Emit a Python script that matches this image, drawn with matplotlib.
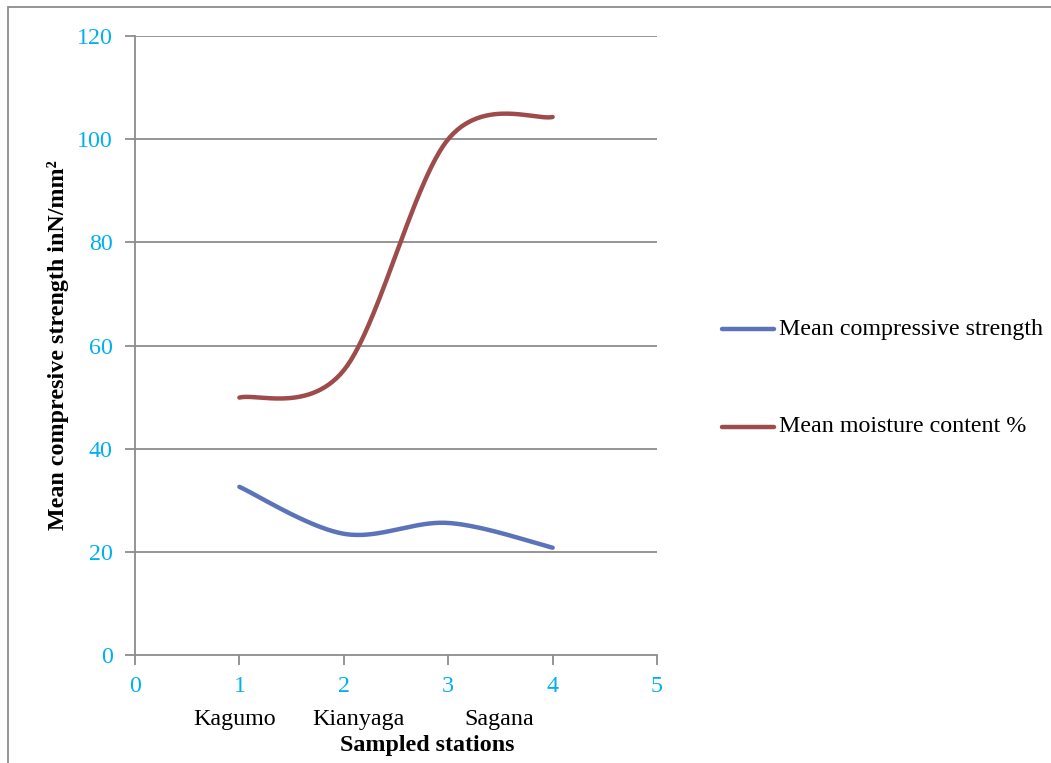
import numpy as np
import matplotlib
matplotlib.use("Agg")
import matplotlib.pyplot as plt
from matplotlib.patches import Rectangle

# Station data
stations = ["Kagumo", "Kianyaga", "Sagana"]
x_values = [1, 2, 3, 4]
strength = [32.6, 23.5, 25.6, 20.8]
moisture = [49.9, 55.2, 100.0, 104.3]

series_names = ["Mean compressive strength", "Mean moisture content %"]
series_colors = ["#5B73B8", "#9E4B4B"]

plt.rcParams["font.family"] = ["Liberation Serif", "DejaVu Serif"]
FS = 17.3


def smooth_curve(xs, ys, n=60):
    """Cubic Bezier smoothing through the points (spreadsheet-style)."""
    pts = np.column_stack([xs, ys]).astype(float)
    m = len(pts)
    out = []
    for i in range(m - 1):
        p0 = pts[i - 1] if i > 0 else pts[i]
        p1 = pts[i]
        p2 = pts[i + 1]
        p3 = pts[i + 2] if i + 2 < m else pts[i + 1]
        c1 = p1 + (p2 - p0) / 6.0
        c2 = p2 - (p3 - p1) / 6.0
        t = np.linspace(0, 1, n)[:, None]
        seg = ((1 - t) ** 3) * p1 + 3 * ((1 - t) ** 2) * t * c1 \
            + 3 * (1 - t) * t ** 2 * c2 + t ** 3 * p2
        out.append(seg if i == 0 else seg[1:])
    curve = np.vstack(out)
    return curve[:, 0], curve[:, 1]


W, H = 1051, 763
fig = plt.figure(figsize=(W / 100, H / 100), dpi=100)
fig.patch.set_facecolor("white")

# outer chart-area border
fig.patches.append(Rectangle((8 / W, -0.1), 1.2, 1 - 7 / H + 0.1,
                             transform=fig.transFigure, fill=False,
                             edgecolor="#8C8C8C", linewidth=1.3))

ax = fig.add_axes([135 / W, 1 - 655 / H, (657 - 135) / W, (655 - 36) / H])
ax.set_xlim(0, 5)
ax.set_ylim(0, 120)
ax.set_xticks(range(0, 6))
ax.set_yticks(range(0, 121, 20))

grid_color = "#8C8C8C"
for y in range(20, 121, 20):
    ax.axhline(y, color=grid_color, linewidth=1.3, zorder=1)

for s in ["top", "right"]:
    ax.spines[s].set_visible(False)
for s in ["left", "bottom"]:
    ax.spines[s].set_color(grid_color)
    ax.spines[s].set_linewidth(1.3)

ax.tick_params(axis="both", direction="out", length=7, width=1.3,
               color=grid_color, labelcolor="#00B0F0", labelsize=FS)
ax.tick_params(axis="y", pad=9)
ax.tick_params(axis="x", pad=8)

for vals, name, col in zip([strength, moisture], series_names, series_colors):
    sx, sy = smooth_curve(x_values, vals)
    ax.plot(sx, sy, color=col, linewidth=3.2, solid_capstyle="round",
            label=name, zorder=3)

# station names under the numeric ticks
station_pos = [0.95, 2.14, 3.49]
for name, xp in zip(stations, station_pos):
    ax.text(xp, -0.105, name, transform=ax.get_xaxis_transform(),
            ha="center", va="center", fontsize=FS, color="black")

ax.text(427 / W, 1 - 746 / H, "Sampled stations", transform=fig.transFigure,
        ha="center", va="center", fontsize=FS, fontweight="bold")
fig.text(58 / W, 1 - 345 / H, "Mean compresive strength inN/mm²",
         rotation=90, ha="center", va="center", fontsize=FS,
         fontweight="bold")

# legend drawn at the right of the plot area
for i, (name, col) in enumerate(zip(series_names, series_colors)):
    ypix = [329, 427][i]
    fig.add_artist(plt.Line2D([722 / W, 774 / W], [1 - ypix / H] * 2,
                              transform=fig.transFigure, color=col,
                              linewidth=3.2, solid_capstyle="round"))
    fig.text(779 / W, 1 - ypix / H, name, ha="left", va="center",
             fontsize=FS)

fig.savefig("out.png", dpi=100)
